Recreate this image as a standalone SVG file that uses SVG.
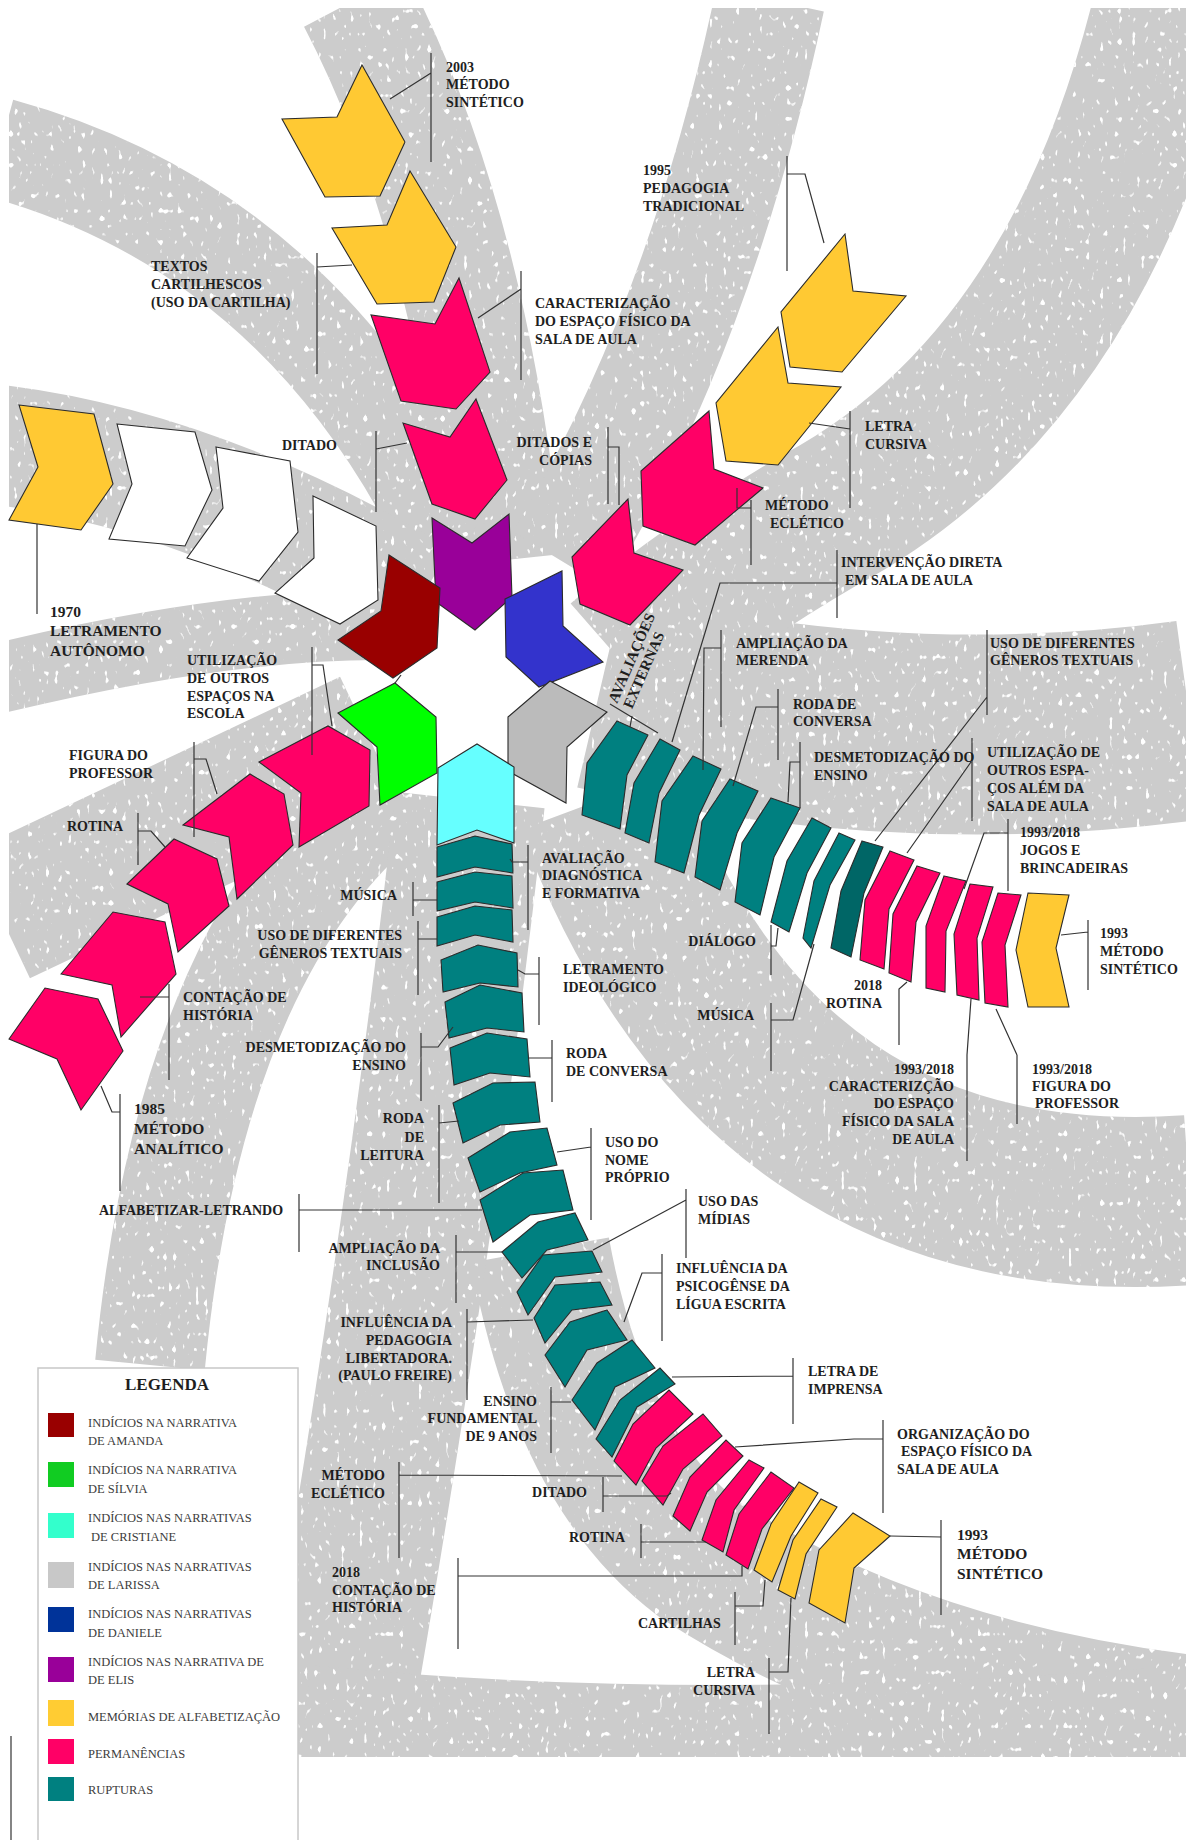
<svg xmlns="http://www.w3.org/2000/svg" width="1186" height="1840" viewBox="0 0 1186 1840">
<defs>
<clipPath id="bgclip"><rect x="9" y="8" width="1177" height="1749"/></clipPath>
<filter id="speck" filterUnits="userSpaceOnUse" x="0" y="0" width="1186" height="1840">
<feTurbulence type="fractalNoise" baseFrequency="0.22 0.13" numOctaves="1" seed="11" result="n"/>
<feColorMatrix in="n" type="matrix" values="0 0 0 0 1 0 0 0 0 1 0 0 0 0 1 14 0 0 0 -9.2" result="w"/>
<feComposite in="w" in2="SourceGraphic" operator="in" result="ws"/>
<feMerge><feMergeNode in="SourceGraphic"/><feMergeNode in="ws"/></feMerge>
</filter>
<style>
.bg{fill:none;stroke:#cccccc;stroke-linecap:butt}
.s{stroke:#2b2b2b;stroke-width:1.1;stroke-linejoin:miter}
.yl{fill:#ffc933}.pk{fill:#ff0066}.tl{fill:#008080}.dtl{fill:#006666}.wh{fill:#ffffff}
.ln{fill:none;stroke:#333;stroke-width:1.2}
.t{font-family:"Liberation Serif","Times New Roman",serif;font-weight:bold;font-size:14px;fill:#1e1e1e}
.tb{font-size:15.5px}
.tr{font-size:15px}
.th{font-size:17px}
.lg{font-family:"Liberation Serif","Times New Roman",serif;font-size:12.5px;fill:#3c3c3c}
</style>
</defs>
<rect x="0" y="0" width="1186" height="1840" fill="#ffffff"/>
<g id="background" clip-path="url(#bgclip)">
<g filter="url(#speck)">
<path class="bg" stroke-width="115" d="M355,0 Q470,220 505,560"/>
<path class="bg" stroke-width="100" d="M0,148 Q300,230 450,540"/>
<path class="bg" stroke-width="120" d="M0,445 Q200,470 420,600"/>
<path class="bg" stroke-width="70" d="M0,678 Q220,625 380,625"/>
<path class="bg" stroke-width="140" d="M0,915 Q200,820 370,740"/>
<path class="bg" stroke-width="110" d="M390,790 Q190,950 150,1365"/>
<path class="bg" stroke-width="200" d="M1190,720 Q900,760 600,690"/>
<path class="bg" stroke-width="170" d="M1190,1200 Q760,1230 600,800"/>
<path class="bg" stroke-width="140" d="M1190,1725 Q900,1690 700,1560 Q580,1470 540,1250"/>
<path class="bg" stroke-width="150" d="M470,800 Q420,1250 330,1760"/>
<path class="bg" stroke-width="110" d="M305,1720 Q700,1760 1190,1720"/>
<path class="bg" stroke-width="110" d="M770,0 Q700,330 560,560"/>
<path class="bg" stroke-width="150" d="M1170,0 Q1080,380 820,520 Q700,590 620,660"/>
</g>
</g>

<g id="center-star">
<g id="elis"><polygon class="s" fill="#990099" points="432,518 472,543 509,514 512,597 475,630 436,602"/></g>
<g id="amanda"><polygon class="s" fill="#990000" points="389,555 440,588 437,648 393,678 338,640 381,611"/></g>
<g id="daniele"><polygon class="s" fill="#3333cc" points="505,599 562,571 563,626 603,662 539,687 506,657"/></g>
<g id="silvia"><polygon class="s" fill="#00ff00" points="338,713 395,683 436,717 437,773 380,805 377,747"/></g>
<g id="larissa"><polygon class="s" fill="#bbbbbb" points="508,717 550,681 607,712 567,747 566,803 508,771"/></g>
<g id="cristiane"><polygon class="s" fill="#66ffff" points="438,768 477,744 514,767 514,843 477,830 437,845"/></g>
</g>

<g id="arm-top">
<g id="top-y1"><polygon class="s yl" points="362,65 405,142 380,196 325,197 282,119 337,117"/></g>
<g id="top-y2"><polygon class="s yl" points="410,171 456,247 434,302 377,304 332,228 387,225"/></g>
<g id="top-p1"><polygon class="s pk" points="459,278 490,372 456,409 401,401 371,315 435,324"/></g>
<g id="top-p2"><polygon class="s pk" points="476,399 507,480 475,519 432,504 403,423 450,437"/></g>
</g>

<g id="arm-upper-right">
<g id="ur-y1"><polygon class="s yl" points="845,234 853,291 906,296 842,372 790,367 781,312"/></g>
<g id="ur-y2"><polygon class="s yl" points="778,327 788,383 841,387 778,465 726,461 716,403"/></g>
<g id="ur-p1"><polygon class="s pk" points="709,411 714,469 763,488 695,545 643,526 641,471"/></g>
<g id="ur-p2"><polygon class="s pk" points="628,499 634,553 683,570 630,625 580,604 572,557"/></g>
</g>

<g id="arm-upper-left">
<g id="ul-y"><polygon class="s yl" points="19,405 94,414 113,484 81,530 9,520 38,467"/></g>
<g id="ul-w1"><polygon class="s wh" points="117,424 195,432 212,490 185,546 109,539 132,484"/></g>
<g id="ul-w2"><polygon class="s wh" points="216,447 290,461 298,532 259,581 187,558 223,508"/></g>
<g id="ul-w3"><polygon class="s wh" points="313,496 376,526 378,600 340,624 275,593 314,558"/></g>
</g>

<g id="arm-left">
<g id="l-p1"><polygon class="s pk" points="259,762 328,726 370,750 369,806 299,847 301,793"/></g>
<g id="l-p2"><polygon class="s pk" points="183,825 250,774 284,794 293,845 237,899 229,837"/></g>
<g id="l-p3"><polygon class="s pk" points="127,884 174,839 217,859 229,906 178,952 168,904"/></g>
<g id="l-p4"><polygon class="s pk" points="61,974 113,912 165,922 176,974 121,1037 112,985"/></g>
<g id="l-p5"><polygon class="s pk" points="9,1039 45,988 98,999 123,1051 81,1110 57,1059"/></g>
</g>

<g id="arm-right">
<g id="r-t1"><polygon class="s tl" points="617,721 648,735 627,775 620,829 582,815 587,763"/></g>
<g id="r-t2"><polygon class="s tl" points="660,739 680,750 659,793 649,843 625,833 634,783"/></g>
<g id="r-t3"><polygon class="s tl" points="693,756 721,769 699,815 684,873 655,862 662,801"/></g>
<g id="r-t4"><polygon class="s tl" points="730,779 758,791 737,833 720,890 695,877 702,821"/></g>
<g id="r-t5"><polygon class="s tl" points="771,798 800,808 774,857 760,915 735,902 742,843"/></g>
<g id="r-t6"><polygon class="s tl" points="812,818 831,828 807,873 789,932 771,922 787,861"/></g>
<g id="r-t7"><polygon class="s tl" points="839,833 855,840 830,885 811,948 803,938 814,881"/></g>
<g id="r-t8"><polygon class="s dtl" points="862,841 883,847 864,893 851,957 831,948 841,891"/></g>
<g id="r-p1"><polygon class="s pk" points="890,851 914,860 889,909 884,969 860,960 865,900"/></g>
<g id="r-p2"><polygon class="s pk" points="917,866 940,873 916,922 911,982 889,973 893,914"/></g>
<g id="r-p3"><polygon class="s pk" points="944,876 966,881 946,931 945,992 926,988 926,926"/></g>
<g id="r-p4"><polygon class="s pk" points="970,884 993,887 977,938 979,1000 957,995 954,934"/></g>
<g id="r-p5"><polygon class="s pk" points="998,893 1021,895 1005,945 1008,1007 985,1003 982,942"/></g>
<g id="r-y"><polygon class="s yl" points="1028,893 1069,895 1056,948 1069,1007 1028,1007 1016,950"/></g>
</g>

<g id="arm-lower">
<g id="lo-t1"><polygon class="s tl" points="437,847 475,836 512,844 513,873 475,867 437,877"/></g>
<g id="lo-t2"><polygon class="s tl" points="437,882 475,872 512,876 513,908 475,902 437,911"/></g>
<g id="lo-t3"><polygon class="s tl" points="437,917 475,906 512,910 513,942 475,935 437,946"/></g>
<g id="lo-t4"><polygon class="s tl" points="441,960 478,945 517,953 518,987 480,983 443,992"/></g>
<g id="lo-t5"><polygon class="s tl" points="445,1002 480,985 522,993 524,1032 487,1028 449,1038"/></g>
<g id="lo-t6"><polygon class="s tl" points="450,1048 487,1033 527,1039 530,1077 490,1073 454,1085"/></g>
<g id="lo-t7"><polygon class="s tl" points="453,1103 493,1083 535,1082 540,1122 500,1125 463,1143"/></g>
<g id="lo-t8"><polygon class="s tl" points="468,1158 510,1132 547,1128 557,1165 520,1173 480,1192"/></g>
<g id="lo-t9"><polygon class="s tl" points="480,1200 523,1173 563,1170 573,1210 530,1215 493,1242"/></g>
<g id="lo-t10"><polygon class="s tl" points="502,1252 538,1222 575,1213 588,1240 547,1250 522,1278"/></g>
<g id="lo-t11"><polygon class="s tl" points="517,1292 543,1255 592,1251 602,1272 555,1277 528,1315"/></g>
<g id="lo-t12"><polygon class="s tl" points="534,1318 555,1285 600,1282 612,1305 572,1310 545,1343"/></g>
<g id="lo-t13"><polygon class="s tl" points="545,1355 570,1322 607,1310 627,1340 587,1350 565,1387"/></g>
<g id="lo-t14"><polygon class="s tl" points="572,1400 597,1363 632,1340 655,1368 615,1387 595,1430"/></g>
<g id="lo-t15"><polygon class="s tl" points="596,1439 620,1400 660,1368 675,1384 637,1407 612,1457"/></g>
<g id="lo-p1"><polygon class="s pk" points="614,1461 633,1424 669,1390 693,1414 656,1448 636,1485"/></g>
<g id="lo-p2"><polygon class="s pk" points="642,1481 663,1446 703,1414 722,1436 683,1469 663,1505"/></g>
<g id="lo-p3"><polygon class="s pk" points="673,1516 690,1477 726,1440 743,1456 707,1492 690,1531"/></g>
<g id="lo-p4"><polygon class="s pk" points="702,1540 716,1500 749,1460 764,1468 734,1510 723,1552"/></g>
<g id="lo-p5"><polygon class="s pk" points="726,1555 739,1514 771,1472 794,1488 762,1529 748,1569"/></g>
<g id="lo-y1"><polygon class="s yl" points="754,1570 771,1524 799,1482 818,1493 791,1536 772,1582"/></g>
<g id="lo-y2"><polygon class="s yl" points="778,1590 793,1540 821,1499 837,1507 806,1554 795,1599"/></g>
<g id="lo-y3"><polygon class="s yl" points="809,1603 819,1550 853,1513 890,1536 854,1568 845,1623"/></g>
</g>

<g id="connectors">
<polyline class="ln" points="401,675 395,683"/>
<path class="ln" d="M431,53V162M431,73L390,99"/>
<path class="ln" d="M317,253V374M317,267L352,265"/>
<path class="ln" d="M521,271V380M521,289L478,318"/>
<path class="ln" d="M376,431V512M376,449L407,443"/>
<path class="ln" d="M608,427V504M608,447H619V505"/>
<path class="ln" d="M787,156V271M787,174H805L824,243"/>
<path class="ln" d="M850,411V508M850,429L809,423"/>
<path class="ln" d="M751,500V565M751,508H737V488"/>
<path class="ln" d="M837,550V618M837,583H720L672,742"/>
<path class="ln" d="M610,704L658,733M632,716L630,727"/>
<path class="ln" d="M721,630V727M721,648H704L703,770"/>
<path class="ln" d="M778,689V760M778,707H756L733,786"/>
<path class="ln" d="M800,742V808M800,762H790L788,802"/>
<path class="ln" d="M987,630V715M987,697L875,841"/>
<path class="ln" d="M972,738V821M971,762L907,853"/>
<path class="ln" d="M1008,819V891M1008,833H984L964,889"/>
<path class="ln" d="M1088,920V990M1088,932L1061,935"/>
<path class="ln" d="M899,1045V989L907,982"/>
<path class="ln" d="M967,1161V1055L971,999"/>
<path class="ln" d="M1017,1055V1124M1017,1055L996,1009"/>
<path class="ln" d="M771,925V975M771,946H776L778,928"/>
<path class="ln" d="M771,1003V1071M771,1020H793L814,944"/>
<path class="ln" d="M37,524V614"/>
<path class="ln" d="M312,647V755M312,665H323L332,726"/>
<path class="ln" d="M194,742V837M194,759H206L217,794"/>
<path class="ln" d="M138,813V865M138,831H151L165,847"/>
<path class="ln" d="M169,984V1080M169,997H140"/>
<path class="ln" d="M120,1094V1191M120,1112H112L101,1086"/>
<path class="ln" d="M413,882V916M413,900H437"/>
<path class="ln" d="M418,921V995M418,939H437"/>
<path class="ln" d="M528,845V930M528,862H512L510,859"/>
<path class="ln" d="M539,957V1025M539,974H525L518,970"/>
<path class="ln" d="M552,1040V1102M552,1058H528"/>
<path class="ln" d="M421,1033V1101M421,1047H438L453,1027"/>
<path class="ln" d="M439,1105V1203M439,1123L459,1121"/>
<path class="ln" d="M591,1128V1220M591,1147L557,1152"/>
<path class="ln" d="M299,1194V1252M299,1210H482"/>
<path class="ln" d="M686,1189V1258M686,1200L593,1250"/>
<path class="ln" d="M662,1254V1341M662,1273H642L624,1322"/>
<path class="ln" d="M793,1358V1424M793,1376L672,1377"/>
<path class="ln" d="M883,1420V1513M883,1439H854L735,1447"/>
<path class="ln" d="M941,1520V1615M941,1537L890,1536"/>
<path class="ln" d="M735,1592V1645M735,1606H763L765,1580"/>
<path class="ln" d="M769,1658V1734M769,1672H788L791,1598"/>
<path class="ln" d="M641,1524V1558M641,1542H706"/>
<path class="ln" d="M603,1477V1512M603,1496H667L671,1493"/>
<path class="ln" d="M399,1462V1558M399,1475L622,1476"/>
<path class="ln" d="M458,1558V1649M458,1576H742V1566"/>
<path class="ln" d="M456,1235V1303M456,1252H503"/>
<path class="ln" d="M467,1309V1400M467,1322L533,1320"/>
<path class="ln" d="M551,1387V1453M551,1402H571"/>
<path class="ln" d="M11,1736V1840"/>
</g>

<g id="labels">
<g id="lbl-2003"><text class="t"><tspan x="446" y="72">2003</tspan><tspan x="446" y="89">MÉTODO</tspan><tspan x="446" y="107">SINTÉTICO</tspan></text></g>
<g id="lbl-textos"><text class="t"><tspan x="151" y="271">TEXTOS</tspan><tspan x="151" y="289">CARTILHESCOS</tspan><tspan x="151" y="307">(USO DA CARTILHA)</tspan></text></g>
<g id="lbl-caract"><text class="t"><tspan x="535" y="308">CARACTERIZAÇÃO</tspan><tspan x="535" y="326">DO ESPAÇO FÍSICO DA</tspan><tspan x="535" y="344">SALA DE AULA</tspan></text></g>
<g id="lbl-ditado-top"><text class="t" x="282" y="450">DITADO</text></g>
<g id="lbl-ditados"><text class="t" text-anchor="end"><tspan x="592" y="447">DITADOS E</tspan><tspan x="592" y="465">CÓPIAS</tspan></text></g>
<g id="lbl-1995"><text class="t"><tspan x="643" y="175">1995</tspan><tspan x="643" y="193">PEDAGOGIA</tspan><tspan x="643" y="211">TRADICIONAL</tspan></text></g>
<g id="lbl-cursiva-top"><text class="t"><tspan x="865" y="431">LETRA</tspan><tspan x="865" y="449">CURSIVA</tspan></text></g>
<g id="lbl-ecletico-top"><text class="t"><tspan x="765" y="510">MÉTODO</tspan><tspan x="770" y="528">ECLÉTICO</tspan></text></g>
<g id="lbl-intervencao"><text class="t"><tspan x="841" y="567">INTERVENÇÃO DIRETA</tspan><tspan x="845" y="585">EM SALA DE AULA</tspan></text></g>
<g id="lbl-avaliacoes"><text class="t tr" transform="translate(617,704) rotate(-66.5)"><tspan x="0" y="0">AVALIAÇÕES</tspan><tspan x="1" y="16">EXTERNAS</tspan></text></g>
<g id="lbl-merenda"><text class="t"><tspan x="736" y="648">AMPLIAÇÃO DA</tspan><tspan x="736" y="665">MERENDA</tspan></text></g>
<g id="lbl-roda-r"><text class="t"><tspan x="793" y="709">RODA DE</tspan><tspan x="793" y="726">CONVERSA</tspan></text></g>
<g id="lbl-desmet-r"><text class="t"><tspan x="814" y="762">DESMETODIZAÇÃO DO</tspan><tspan x="814" y="780">ENSINO</tspan></text></g>
<g id="lbl-generos-r"><text class="t"><tspan x="990" y="648">USO DE DIFERENTES</tspan><tspan x="990" y="665">GÊNEROS TEXTUAIS</tspan></text></g>
<g id="lbl-util-r"><text class="t"><tspan x="987" y="757">UTILIZAÇÃO DE</tspan><tspan x="987" y="775">OUTROS ESPA-</tspan><tspan x="987" y="793">ÇOS ALÉM DA</tspan><tspan x="987" y="811">SALA DE AULA</tspan></text></g>
<g id="lbl-jogos"><text class="t"><tspan x="1020" y="837">1993/2018</tspan><tspan x="1020" y="855">JOGOS E</tspan><tspan x="1020" y="873">BRINCADEIRAS</tspan></text></g>
<g id="lbl-1993-r"><text class="t"><tspan x="1100" y="938">1993</tspan><tspan x="1100" y="956">MÉTODO</tspan><tspan x="1100" y="974">SINTÉTICO</tspan></text></g>
<g id="lbl-rotina-r"><text class="t" text-anchor="end"><tspan x="882" y="990">2018</tspan><tspan x="882" y="1008">ROTINA</tspan></text></g>
<g id="lbl-caract-r"><text class="t" text-anchor="end"><tspan x="954" y="1074">1993/2018</tspan><tspan x="954" y="1091">CARACTERIZÇÃO</tspan><tspan x="954" y="1108">DO ESPAÇO</tspan><tspan x="954" y="1126">FÍSICO DA SALA</tspan><tspan x="954" y="1144">DE AULA</tspan></text></g>
<g id="lbl-figura-r"><text class="t"><tspan x="1032" y="1074">1993/2018</tspan><tspan x="1032" y="1091">FIGURA DO</tspan><tspan x="1035" y="1108">PROFESSOR</tspan></text></g>
<g id="lbl-dialogo"><text class="t" text-anchor="end" x="756" y="946">DIÁLOGO</text></g>
<g id="lbl-musica-r"><text class="t" text-anchor="end" x="754" y="1020">MÚSICA</text></g>
<g id="lbl-1970"><text class="t tb"><tspan x="50" y="617">1970</tspan><tspan x="50" y="636">LETRAMENTO</tspan><tspan x="50" y="656">AUTÔNOMO</tspan></text></g>
<g id="lbl-util-l"><text class="t"><tspan x="187" y="665">UTILIZAÇÃO</tspan><tspan x="187" y="683">DE OUTROS</tspan><tspan x="187" y="701">ESPAÇOS NA</tspan><tspan x="187" y="718">ESCOLA</tspan></text></g>
<g id="lbl-figura-l"><text class="t"><tspan x="69" y="760">FIGURA DO</tspan><tspan x="69" y="778">PROFESSOR</tspan></text></g>
<g id="lbl-rotina-l"><text class="t" x="67" y="831">ROTINA</text></g>
<g id="lbl-contacao-l"><text class="t"><tspan x="183" y="1002">CONTAÇÃO DE</tspan><tspan x="183" y="1020">HISTÓRIA</tspan></text></g>
<g id="lbl-1985"><text class="t tb"><tspan x="134" y="1114">1985</tspan><tspan x="134" y="1134">MÉTODO</tspan><tspan x="134" y="1154">ANALÍTICO</tspan></text></g>
<g id="lbl-musica-lo"><text class="t" text-anchor="end" x="397" y="900">MÚSICA</text></g>
<g id="lbl-generos-lo"><text class="t" text-anchor="end"><tspan x="402" y="940">USO DE DIFERENTES</tspan><tspan x="402" y="958">GÊNEROS TEXTUAIS</tspan></text></g>
<g id="lbl-avaliacao"><text class="t"><tspan x="542" y="863">AVALIAÇÃO</tspan><tspan x="542" y="880">DIAGNÓSTICA</tspan><tspan x="542" y="898">E FORMATIVA</tspan></text></g>
<g id="lbl-ideologico"><text class="t"><tspan x="563" y="974">LETRAMENTO</tspan><tspan x="563" y="992">IDEOLÓGICO</tspan></text></g>
<g id="lbl-roda-lo"><text class="t"><tspan x="566" y="1058">RODA</tspan><tspan x="566" y="1076">DE CONVERSA</tspan></text></g>
<g id="lbl-desmet-lo"><text class="t" text-anchor="end"><tspan x="406" y="1052">DESMETODIZAÇÃO DO</tspan><tspan x="406" y="1070">ENSINO</tspan></text></g>
<g id="lbl-leitura"><text class="t" text-anchor="end"><tspan x="424" y="1123">RODA</tspan><tspan x="424" y="1142">DE</tspan><tspan x="424" y="1160">LEITURA</tspan></text></g>
<g id="lbl-nome"><text class="t"><tspan x="605" y="1147">USO DO</tspan><tspan x="605" y="1165">NOME</tspan><tspan x="605" y="1182">PRÓPRIO</tspan></text></g>
<g id="lbl-alfabetizar"><text class="t" x="99" y="1215">ALFABETIZAR-LETRANDO</text></g>
<g id="lbl-midias"><text class="t"><tspan x="698" y="1206">USO DAS</tspan><tspan x="698" y="1224">MÍDIAS</tspan></text></g>
<g id="lbl-psicogenese"><text class="t"><tspan x="676" y="1273">INFLUÊNCIA DA</tspan><tspan x="676" y="1291">PSICOGÊNSE DA</tspan><tspan x="676" y="1309">LÍGUA ESCRITA</tspan></text></g>
<g id="lbl-imprensa"><text class="t"><tspan x="808" y="1376">LETRA DE</tspan><tspan x="808" y="1394">IMPRENSA</tspan></text></g>
<g id="lbl-organizacao"><text class="t"><tspan x="897" y="1439">ORGANIZAÇÃO DO</tspan><tspan x="901" y="1456">ESPAÇO FÍSICO DA</tspan><tspan x="897" y="1474">SALA DE AULA</tspan></text></g>
<g id="lbl-1993-lo"><text class="t tb"><tspan x="957" y="1540">1993</tspan><tspan x="957" y="1559">MÉTODO</tspan><tspan x="957" y="1579">SINTÉTICO</tspan></text></g>
<g id="lbl-cartilhas"><text class="t" x="638" y="1628">CARTILHAS</text></g>
<g id="lbl-cursiva-lo"><text class="t" text-anchor="end"><tspan x="755" y="1677">LETRA</tspan><tspan x="755" y="1695">CURSIVA</tspan></text></g>
<g id="lbl-rotina-lo"><text class="t" text-anchor="end" x="625" y="1542">ROTINA</text></g>
<g id="lbl-ditado-lo"><text class="t" text-anchor="end" x="587" y="1497">DITADO</text></g>
<g id="lbl-ecletico-lo"><text class="t" text-anchor="end"><tspan x="385" y="1480">MÉTODO</tspan><tspan x="385" y="1498">ECLÉTICO</tspan></text></g>
<g id="lbl-contacao-lo"><text class="t"><tspan x="332" y="1577">2018</tspan><tspan x="332" y="1595">CONTAÇÃO DE</tspan><tspan x="332" y="1612">HISTÓRIA</tspan></text></g>
<g id="lbl-inclusao"><text class="t" text-anchor="end"><tspan x="440" y="1253">AMPLIAÇÃO DA</tspan><tspan x="440" y="1270">INCLUSÃO</tspan></text></g>
<g id="lbl-freire"><text class="t" text-anchor="end"><tspan x="452" y="1327">INFLUÊNCIA DA</tspan><tspan x="452" y="1345">PEDAGOGIA</tspan><tspan x="452" y="1363">LIBERTADORA.</tspan><tspan x="452" y="1380">(PAULO FREIRE)</tspan></text></g>
<g id="lbl-ensino9"><text class="t" text-anchor="end"><tspan x="537" y="1406">ENSINO</tspan><tspan x="537" y="1423">FUNDAMENTAL</tspan><tspan x="537" y="1441">DE 9 ANOS</tspan></text></g>
</g>

<g id="legend">
<rect x="38" y="1368" width="260" height="480" fill="#ffffff" stroke="#c8c8c8" stroke-width="1.5"/>
<text class="t th" x="167" y="1390" text-anchor="middle">LEGENDA</text>
<rect x="48" y="1413" width="26" height="24" fill="#990000"/>
<rect x="48" y="1462" width="26" height="25" fill="#11cc22"/>
<rect x="48" y="1513" width="26" height="25" fill="#33ffcc"/>
<rect x="48" y="1562" width="26" height="26" fill="#c8c8c8"/>
<rect x="48" y="1607" width="26" height="25" fill="#003399"/>
<rect x="48" y="1657" width="26" height="25" fill="#990099"/>
<rect x="48" y="1700" width="26" height="26" fill="#ffcc33"/>
<rect x="48" y="1739" width="26" height="25" fill="#ff0066"/>
<rect x="48" y="1777" width="26" height="24" fill="#008080"/>
<text class="lg"><tspan x="88" y="1427">INDÍCIOS NA NARRATIVA</tspan><tspan x="88" y="1445">DE AMANDA</tspan></text>
<text class="lg"><tspan x="88" y="1474">INDÍCIOS NA NARRATIVA</tspan><tspan x="88" y="1493">DE SÍLVIA</tspan></text>
<text class="lg"><tspan x="88" y="1522">INDÍCIOS NAS NARRATIVAS</tspan><tspan x="91" y="1541">DE CRISTIANE</tspan></text>
<text class="lg"><tspan x="88" y="1571">INDÍCIOS NAS NARRATIVAS</tspan><tspan x="88" y="1589">DE LARISSA</tspan></text>
<text class="lg"><tspan x="88" y="1618">INDÍCIOS NAS NARRATIVAS</tspan><tspan x="88" y="1637">DE DANIELE</tspan></text>
<text class="lg"><tspan x="88" y="1666">INDÍCIOS NAS NARRATIVA DE</tspan><tspan x="88" y="1684">DE ELIS</tspan></text>
<text class="lg" x="88" y="1721">MEMÓRIAS DE ALFABETIZAÇÃO</text>
<text class="lg" x="88" y="1758">PERMANÊNCIAS</text>
<text class="lg" x="88" y="1794">RUPTURAS</text>
</g>
</svg>
